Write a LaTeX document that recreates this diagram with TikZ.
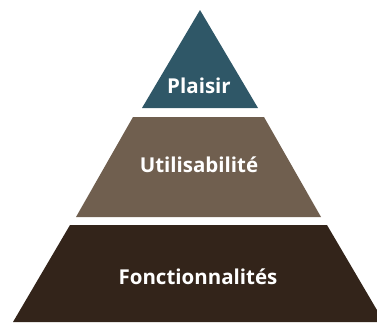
\documentclass[tikz,border=0pt]{standalone}
\usepackage{fontspec}
\setmainfont{Open Sans}
\usetikzlibrary{positioning}
\definecolor{tealtop}{HTML}{2F5767}
\definecolor{brownmid}{HTML}{705F4F}
\definecolor{darkbase}{HTML}{33241A}
\tikzset{tier/.style={draw=none}}
\tikzset{caption/.style={text=white,font=\bfseries\fontsize{20.5}{24}\selectfont,inner sep=0pt}}

\begin{document}
\begin{tikzpicture}[x=1pt,y=-1pt]
    \useasboundingbox (0,0) rectangle (377,322);

    % pyramid layers
    \fill[tier,tealtop] (200,10) -- (258,108) -- (142,108) -- cycle;
    \fill[tier,brownmid] (133,117) -- (264,117) -- (321,217) -- (76,217) -- cycle;
    \fill[tier,darkbase] (70,225) -- (327,225) -- (384,322) -- (13,322) -- cycle;

    \node[caption] (plaisir) at (199,86) {Plaisir};
    \node[caption] (utilite) at (199,165) {Utilisabilité};
    \node[caption] (fonctions) at (198,277) {Fonctionnalités};
\end{tikzpicture}
\end{document}
